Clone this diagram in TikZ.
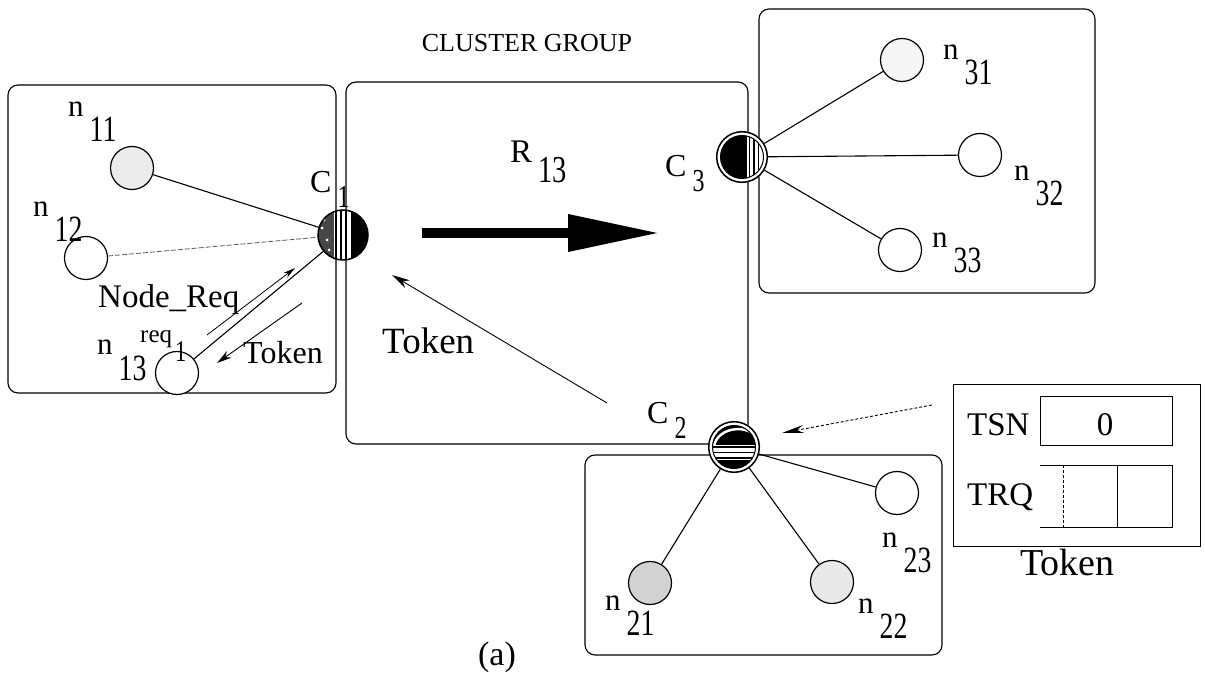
\documentclass[tikz,border=0pt]{standalone}
\usepackage{fontspec}
\setmainfont{Liberation Serif}
\newfontfamily\condfont[FakeStretch=0.75]{Liberation Serif}
\usetikzlibrary{arrows.meta}
\newcommand\pxsize[1]{\fontsize{#1pt}{#1pt}\selectfont}
% member label: n with a lowered index
\newcommand\nlabel[1]{{\pxsize{31}n}\hspace{6pt}\raisebox{-25pt}{\condfont\pxsize{37}#1}}
% cluster-head label: C with a lowered index
\newcommand\clabel[1]{{\pxsize{32}C}\hspace{6pt}\raisebox{-15pt}{\condfont\pxsize{32}#1}}

\begin{document}
\begin{tikzpicture}[x=1pt,y=-1pt,
  box/.style={draw, line width=1.1pt, rounded corners=10pt},
  member/.style={circle, draw, line width=1.2pt, minimum size=43pt, inner sep=0pt, fill=white},
  headnode/.style={circle, minimum size=50pt, inner sep=0pt},
  link/.style={line width=1.1pt},
  lbl/.style={inner sep=0pt, anchor=base west},
  thinarrow/.style={line width=0.9pt}
]
\useasboundingbox (0,0) rectangle (1205,676);

% cluster boxes
\draw[box] (8,85) rectangle (336,393);
\draw[box] (346,82) rectangle (748,444);
\draw[box] (759,9) rectangle (1095,293);
\draw[box] (585,455) rectangle (942,655);

% token structure
\draw[line width=0.9pt] (953,384) rectangle (1200,546);
\draw[line width=0.9pt] (1040,396) rectangle (1172,445);
\draw[line width=0.9pt] (1040,465) -- (1172,465) -- (1172,527) -- (1040,527);
\draw[line width=0.9pt] (1117,465) -- (1117,527);
\draw[line width=0.8pt, densely dashed] (1063,465) -- (1063,527);

% nodes
\node[headnode] (c1) at (343,235) {};
\node[headnode] (c3) at (742,157) {};
\node[headnode] (c2) at (734,447) {};

\node[member, fill=gray!15] (n11) at (132,168) {};
\node[member] (n12) at (86,258) {};
\node[member] (n13) at (177,373) {};
\node[member, fill=gray!8] (n31) at (902,60) {};
\node[member] (n32) at (980,155) {};
\node[member] (n33) at (900,250) {};
\node[member, fill=gray!35] (n21) at (650,583) {};
\node[member, fill=gray!18] (n22) at (832,582) {};
\node[member] (n23) at (897,493) {};

% links to the cluster heads
\draw[link] (n11) -- (c1);
\draw[line width=0.8pt, dash pattern=on 5pt off 2pt, gray!70!black] (n12) -- (c1);
\draw[link] (n13) -- (c1);
\draw[link] (c3) -- (n31);
\draw[link] (c3) -- (n32);
\draw[link] (c3) -- (n33);
\draw[link] (c2) -- (n21);
\draw[link] (c2) -- (n22);
\draw[link] (c2) -- (n23);

% head C1
\begin{scope}
  \clip (c1.center) circle [radius=25pt];
  \fill[gray!55!black] (316,205) rectangle (334,265);
  \fill[white] (334,205) rectangle (351,265);
  \fill[black] (351,205) rectangle (370,265);
  \foreach \x in {336,341,346} \draw[line width=1.6pt] (\x,205) -- (\x,265);
  \foreach \p in {(322,228),(327,240),(324,220),(329,250)} \fill[white] \p circle [radius=1.5pt];
\end{scope}
\draw[line width=1.5pt] (c1.center) circle [radius=25pt];

% head C3
\fill[white] (c3.center) circle [radius=26pt];
\draw[line width=1.5pt] (c3.center) circle [radius=25.3pt];
\begin{scope}
  \clip (c3.center) circle [radius=21.5pt];
  \fill[black] (715,130) rectangle (770,185);
  \fill[white] (747,130) rectangle (770,185);
  \foreach \x in {749.5,754,758.5} \draw[line width=1.4pt] (\x,130) -- (\x,185);
\end{scope}
\draw[line width=1pt] (c3.center) circle [radius=21.5pt];

% head C2
\fill[white] (c2.center) circle [radius=26pt];
\draw[line width=1.5pt] (c2.center) circle [radius=25.3pt];
\begin{scope}
  \clip (c2.center) circle [radius=21.5pt];
  \fill[black] (705,420) rectangle (765,475);
  \draw[white, line width=2.5pt] (714,446) .. controls (717,430) and (740,424) .. (754,434);
  \fill[white] (705,445) rectangle (765,460);
  \foreach \y in {447,452.5,458} \draw[line width=1.2pt] (705,\y) -- (765,\y);
\end{scope}
\draw[line width=1pt] (c2.center) circle [radius=21.5pt];

% labels
\node[inner sep=0pt, anchor=base] (title) at (527,52) {\pxsize{26}CLUSTER GROUP};
\node[lbl] (l11) at (68,117) {\nlabel{11}};
\node[lbl] (l12) at (33,217) {\nlabel{12}};
\node[lbl] (l13) at (97,355) {\nlabel{13}};
\node[lbl] (lc1) at (310,193) {\clabel{1}};
\node[lbl] (lc3) at (665,177) {\clabel{3}};
\node[lbl] (lc2) at (647,423) {\clabel{2}};
\node[lbl] (l31) at (943,60) {\nlabel{31}};
\node[lbl] (l32) at (1014,181) {\nlabel{32}};
\node[lbl] (l33) at (932,248) {\nlabel{33}};
\node[lbl] (l21) at (605,610) {\nlabel{21}};
\node[lbl] (l22) at (858,613) {\nlabel{22}};
\node[lbl] (l23) at (882,547) {\nlabel{23}};
\node[lbl] (lreq) at (140,343) {{\pxsize{25}req}\hspace{3pt}\raisebox{-18pt}{\condfont\pxsize{30}1}};
\node[lbl] (lnodereq) at (98,308) {\pxsize{33}Node\_Req};
\node[lbl] (ltokA) at (243,363) {\pxsize{32}Token};
\node[lbl] (ltokB) at (382,353) {\pxsize{37}Token};
\node[lbl] (lr13) at (510,163) {{\pxsize{33}R}\hspace{6pt}\raisebox{-20pt}{\condfont\pxsize{38}13}};
\node[lbl] (ltsn) at (967,435) {\pxsize{33}TSN};
\node[lbl] (ltrq) at (967,505) {\pxsize{33}TRQ};
\node[inner sep=0pt, anchor=base] (lzero) at (1105,435) {\pxsize{33}0};
\node[lbl] (ltokC) at (1020,575) {\pxsize{38}Token};
\node[inner sep=0pt, anchor=base] (lcap) at (497,665) {\pxsize{34}(a)};

% arrows
\coordinate (rs) at (422,233);
\coordinate (re) at (660,233);
\draw[line width=10pt, -{Triangle[length=92pt,width=35pt]}] (rs) -- (re);

\coordinate (ts) at (607,403);
\coordinate (te) at (392,275);
\draw[thinarrow, -{Stealth[length=18pt,width=9pt]}] (ts) -- (te);

\coordinate (ks) at (932,405);
\coordinate (ke) at (782,433);
\draw[thinarrow, densely dashed, -{Stealth[length=22pt,width=8pt]}] (ks) -- (ke);

\coordinate (qs) at (207,335);
\coordinate (qe) at (295,268);
\draw[line width=0.8pt, -{Stealth[length=12pt,width=6pt]}] (qs) -- (qe);

\coordinate (gs) at (302,303);
\coordinate (ge) at (217,363);
\draw[thinarrow, -{Stealth[length=15pt,width=8pt]}] (gs) -- (ge);
\end{tikzpicture}
\end{document}
